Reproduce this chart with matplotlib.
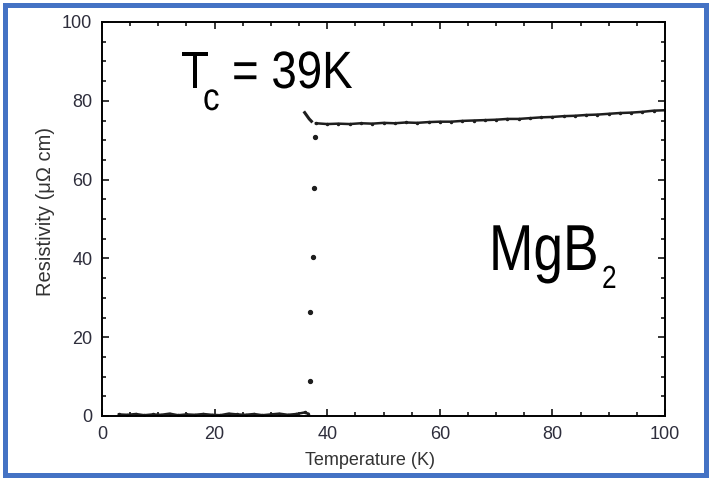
import matplotlib
matplotlib.use("Agg")
import matplotlib.pyplot as plt
from matplotlib.patches import Rectangle, PathPatch
from matplotlib.textpath import TextPath
from matplotlib.font_manager import FontProperties
from matplotlib.transforms import Affine2D
from matplotlib.ticker import MultipleLocator

# superconducting branch below the transition
low_T = [3, 4.5, 6, 7.5, 9, 10.5, 12, 13.5, 15, 16.5, 18, 19.5, 21, 22.5,
         24, 25.5, 27, 28.5, 30, 31.5, 33, 34.5, 36, 36.6]
low_rho = [0.4, 0.3, 0.5, 0.2, 0.4, 0.3, 0.6, 0.2, 0.4, 0.3, 0.5, 0.3, 0.2,
           0.6, 0.4, 0.3, 0.5, 0.2, 0.4, 0.6, 0.3, 0.5, 0.9, 0.6]

# points through the transition
trans_T = [36.9, 37.0, 37.5, 37.7, 37.8]
trans_rho = [8.9, 26.5, 40.4, 57.9, 70.9]

# small overshoot just above Tc
kink_T = [36.0, 36.4, 36.8, 37.2]
kink_rho = [77.0, 76.2, 75.4, 74.8]

# normal state
norm_T = [38, 40, 42, 44, 46, 48, 50, 52, 54, 56, 58, 60, 62, 64, 66, 68,
          70, 72, 74, 76, 78, 80, 82, 84, 86, 88, 90, 92, 94, 96, 98, 100]
norm_rho = [74.3, 74.1, 74.2, 74.1, 74.3, 74.2, 74.4, 74.3, 74.5, 74.4, 74.6,
            74.7, 74.7, 74.9, 75.0, 75.1, 75.2, 75.4, 75.4, 75.6, 75.8, 75.9,
            76.1, 76.2, 76.4, 76.5, 76.7, 76.9, 77.0, 77.2, 77.5, 77.6]

W, H = 710, 479
fig = plt.figure(figsize=(W / 100, H / 100), dpi=100)
ax = fig.add_axes([102 / W, 1 - 416 / H, 563 / W, 394 / H])

ink = "#1e1e1e"
ax.plot(low_T, low_rho, "-", color=ink, lw=1.8, marker=".", ms=3)
ax.plot(trans_T, trans_rho, "o", color=ink, ms=2.8, ls="none")
ax.plot(kink_T, kink_rho, "-", color=ink, lw=2.2)
ax.plot(norm_T, norm_rho, "-", color=ink, lw=1.8, marker=".", ms=3)

ax.set_xlim(0, 100)
ax.set_ylim(0, 100)
ax.xaxis.set_major_locator(MultipleLocator(20))
ax.yaxis.set_major_locator(MultipleLocator(20))
ax.xaxis.set_minor_locator(MultipleLocator(5))
ax.yaxis.set_minor_locator(MultipleLocator(5))
ax.tick_params(which="both", direction="in", top=True, right=True,
               width=1.1, color="black")
ax.tick_params(which="major", length=5, labelsize=13, pad=7,
               labelcolor="#2e2e3c")
ax.tick_params(which="minor", length=3)
for lab in ax.get_xticklabels() + ax.get_yticklabels():
    lab.set_family("Liberation Sans")
for s in ax.spines.values():
    s.set_linewidth(1.4)

ax.set_xlabel("Temperature (K)", fontsize=13, family="Liberation Sans",
              color="#333333")
ax.set_ylabel("Resistivity (μΩ cm)", fontsize=14.5, family="Liberation Sans",
              color="#333333")
ax.xaxis.set_label_coords(0.476, -0.091)
ax.yaxis.set_label_coords(-0.0835, 0.519)

font = FontProperties(family="Liberation Sans")


def narrow_text(x, y, s, size, squeeze=0.82):
    # text drawn as a path so it can be squeezed sideways; x, y in pixels
    # from the top-left, y on the baseline
    path = TextPath((0, 0), s, size=size, prop=font)
    tr = (Affine2D().scale(squeeze / W, 1 / H).translate(x / W, 1 - y / H)
          + fig.transFigure)
    fig.patches.append(PathPatch(path, transform=tr, facecolor="black",
                                 edgecolor="none"))


narrow_text(181, 88, "T", 52.5, 0.86)
narrow_text(203, 110, "c", 38.5, 0.86)
narrow_text(232, 88, "= 39K", 52.5, 0.87)
narrow_text(489, 270, "MgB", 65)
narrow_text(602, 288, "2", 32)

# blue frame round the whole figure
fig.patches.append(Rectangle((4.5 / W, 4.5 / H), 1 - 9 / W, 1 - 9 / H,
                             transform=fig.transFigure, fill=False,
                             edgecolor="#4472c4", lw=3.6))

fig.savefig("out.png", dpi=100)
